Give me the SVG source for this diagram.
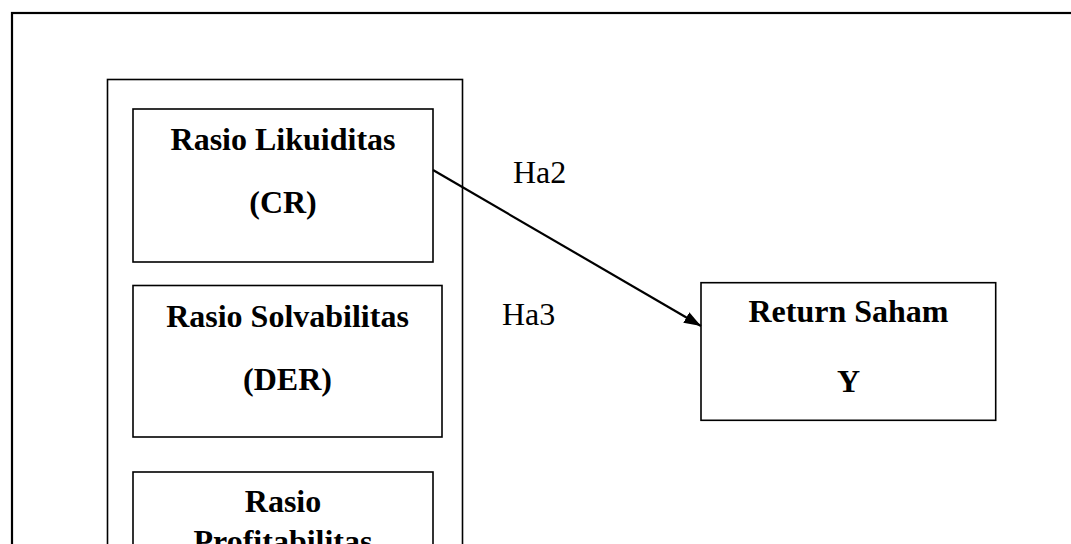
<svg xmlns="http://www.w3.org/2000/svg" width="1071" height="544" viewBox="0 0 1071 544">
<style>
.box{fill:none;stroke:#000;stroke-width:1.6}
.t{font-family:"Liberation Serif","Times New Roman",serif;font-size:32px;font-weight:bold;text-anchor:middle;fill:#000}
.lbl{font-family:"Liberation Serif","Times New Roman",serif;font-size:32px;fill:#000}
</style>
<defs>
<marker id="arr" markerWidth="17" markerHeight="12" refX="17" refY="6" orient="auto" markerUnits="userSpaceOnUse" viewBox="0 0 17 12">
<path d="M0,0 L17,6 L0,12 Z" fill="#000"/>
</marker>
</defs>
<rect width="1071" height="544" fill="#fff"/>
<g id="frame"><rect x="12" y="13" width="1100" height="600" fill="none" stroke="#000" stroke-width="2.2"/></g>
<g id="group"><rect x="107.5" y="79.5" width="355" height="520" class="box"/></g>
<g id="likuiditas">
<rect x="133" y="109" width="300" height="153" class="box"/>
<text class="t" x="283" y="150">Rasio Likuiditas</text>
<text class="t" x="283" y="213">(CR)</text>
</g>
<g id="solvabilitas">
<rect x="133" y="285.5" width="309" height="151.5" class="box"/>
<text class="t" x="287.5" y="327">Rasio Solvabilitas</text>
<text class="t" x="287.5" y="390">(DER)</text>
</g>
<g id="profitabilitas">
<rect x="133" y="472" width="300" height="150" class="box"/>
<text class="t" x="283" y="512">Rasio</text>
<text class="t" x="283" y="552">Profitabilitas</text>
</g>
<g id="return">
<rect x="701" y="282.7" width="294.7" height="137.6" class="box"/>
<text class="t" x="848.5" y="322">Return Saham</text>
<text class="t" x="848.5" y="392">Y</text>
</g>
<g id="connectors">
<line x1="433" y1="170" x2="701" y2="326" stroke="#000" stroke-width="2.2" marker-end="url(#arr)"/>
<text class="lbl" x="513" y="183">Ha2</text>
<text class="lbl" x="502" y="325">Ha3</text>
</g>
</svg>
